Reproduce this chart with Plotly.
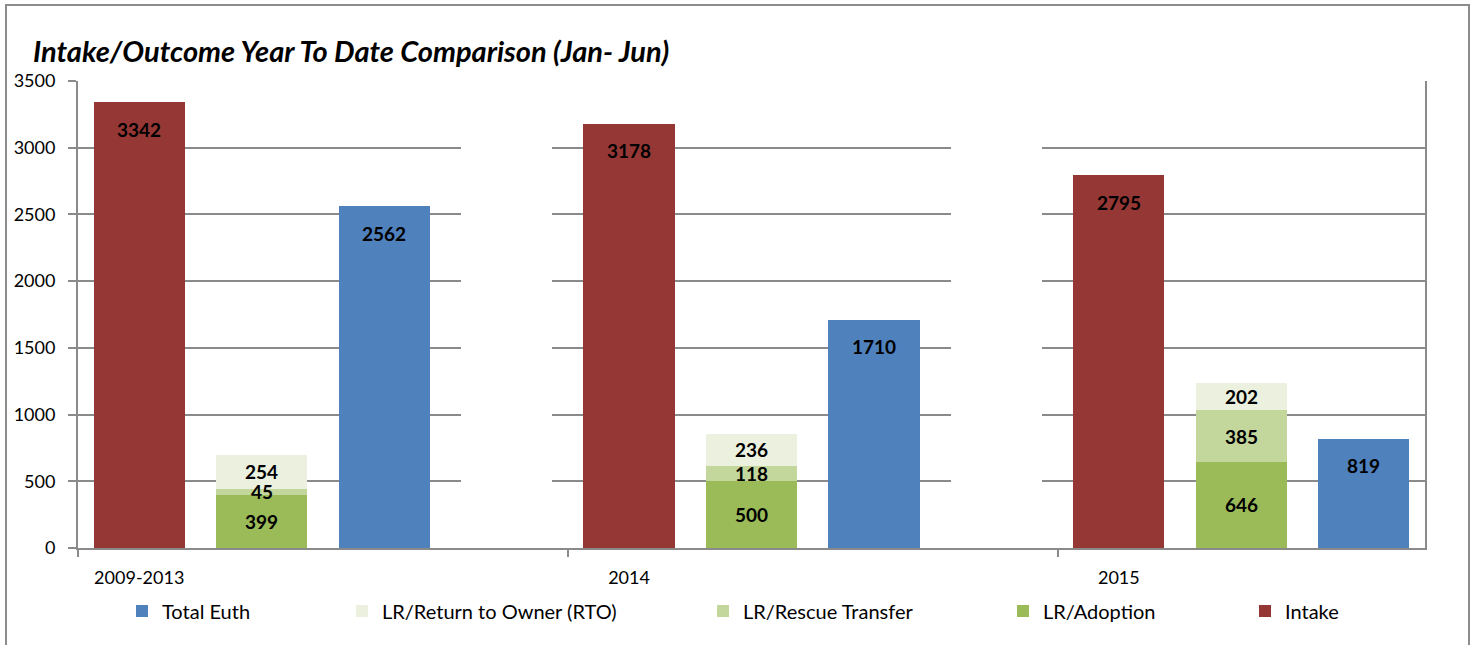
import plotly.graph_objects as go

# ---- data ----
categories = ["2009-2013", "2014", "2015"]
intake = [3342, 3178, 2795]
lr_adoption = [399, 500, 646]
lr_rescue = [45, 118, 385]
lr_rto = [254, 236, 202]
total_euth = [2562, 1710, 819]

y_max = 3500
y_step = 500

# ---- layout geometry ----
W, H = 1472, 645
L, R, T, B = 78, 47, 81, 97
plot_w = W - L - R
plot_h = H - T - B

slots_per_group = 4
x_intake = [g * slots_per_group + 0 for g in range(len(categories))]
x_lr = [g * slots_per_group + 1 for g in range(len(categories))]
x_euth = [g * slots_per_group + 2 for g in range(len(categories))]
x_gap = [g * slots_per_group + 3 for g in range(len(categories) - 1)]
n_slots = len(categories) * slots_per_group - 1

C_INTAKE = "#953735"
C_ADOPT = "#9BBB59"
C_RESCUE = "#C3D69B"
C_RTO = "#EBF1DE"
C_EUTH = "#4F81BD"
GRID = "#8A8A8A"
FONT = "Lato"

bw = 0.745
fig = go.Figure()

def px2paper_x(px):
    return (px - L) / plot_w

def px2paper_y(py):
    return (H - B - py) / plot_h

legend_y = px2paper_y(611)
# legend text start positions (px) in the reference
legend_text_px = {"Total Euth": 160, "LR/Return to Owner (RTO)": 380,
                  "LR/Rescue Transfer": 741, "LR/Adoption": 1041, "Intake": 1283}
legend_names = ["Total Euth", "LR/Return to Owner (RTO)", "LR/Rescue Transfer", "LR/Adoption", "Intake"]
legend_ids = {n: ("legend" if i == 0 else f"legend{i+1}") for i, n in enumerate(legend_names)}

def add_bar(x, y, name, color, base=None):
    fig.add_trace(go.Bar(
        x=x, y=y, base=base, name=name, width=bw,
        marker=dict(color=color, line=dict(width=0)),
        legend=legend_ids[name], hoverinfo="y+name",
    ))

add_bar(x_intake, intake, "Intake", C_INTAKE)
add_bar(x_lr, lr_adoption, "LR/Adoption", C_ADOPT)
base_rescue = lr_adoption
add_bar(x_lr, lr_rescue, "LR/Rescue Transfer", C_RESCUE, base=base_rescue)
base_rto = [a + b for a, b in zip(lr_adoption, lr_rescue)]
add_bar(x_lr, lr_rto, "LR/Return to Owner (RTO)", C_RTO, base=base_rto)
add_bar(x_euth, total_euth, "Total Euth", C_EUTH)

# white spacer bars between groups (hide gridlines there, as in the original)
fig.add_trace(go.Bar(
    x=x_gap, y=[y_max] * len(x_gap), width=bw, showlegend=False,
    marker=dict(color="white", line=dict(width=0)), hoverinfo="skip",
))

# ---- data labels ----
lab_font = dict(family=FONT, size=19, color="black", weight="bold")
for xs, vals in ((x_intake, intake), (x_euth, total_euth)):
    for x, v in zip(xs, vals):
        fig.add_annotation(x=x, y=v, text=f"<b>{v}</b>", showarrow=False,
                           yshift=-27, font=lab_font, xref="x", yref="y")
for vals, bases in ((lr_adoption, [0] * 3), (lr_rescue, base_rescue), (lr_rto, base_rto)):
    for x, v, b in zip(x_lr, vals, bases):
        fig.add_annotation(x=x, y=b + v / 2, text=f"<b>{v}</b>", showarrow=False,
                           font=lab_font, xref="x", yref="y")

# ---- legends ----
legend_layouts = {}
for n in legend_names:
    legend_layouts[legend_ids[n]] = dict(
        x=px2paper_x(legend_text_px[n] - 38), y=legend_y,
        xanchor="left", yanchor="middle", orientation="h",
        font=dict(family=FONT, size=20, color="black"),
        bgcolor="rgba(0,0,0,0)", borderwidth=0,
    )

fig.update_layout(
    width=W, height=H,
    margin=dict(l=L, r=R, t=T, b=B, pad=0),
    paper_bgcolor="white", plot_bgcolor="white",
    barmode="overlay", bargap=0,
    font=dict(family=FONT, size=18, color="black"),
    title=dict(
        text="<b><i>Intake/Outcome Year To Date Comparison (Jan- Jun)</i></b>",
        x=33 / W, xref="container", xanchor="left",
        y=1 - 52 / H, yref="container", yanchor="middle",
        font=dict(family=FONT, size=29, color="black"),
    ),
    xaxis=dict(
        range=[-0.5, n_slots - 0.5],
        tickvals=[g * slots_per_group for g in range(len(categories))],
        ticktext=categories,
        ticks="", showgrid=False, zeroline=False,
        showline=True, linecolor=GRID, linewidth=2,
        tickfont=dict(family=FONT, size=18, color="black"),
        ticklabelstandoff=12,
        minor=dict(
            tickvals=[g * slots_per_group - 0.5 for g in range(len(categories))],
            ticks="outside", ticklen=7, tickcolor=GRID, tickwidth=2, showgrid=False,
        ),
        fixedrange=True,
    ),
    yaxis=dict(
        range=[0, y_max], dtick=y_step, tick0=0,
        showgrid=True, gridcolor=GRID, gridwidth=2,
        zeroline=False, showline=True, linecolor=GRID, linewidth=2, mirror=True,
        ticks="outside", ticklen=8, tickcolor=GRID, tickwidth=2,
        tickfont=dict(family=FONT, size=18, color="black"),
        ticklabelstandoff=9,
        fixedrange=True,
    ),
    shapes=[dict(
        type="rect", xref="paper", yref="paper",
        x0=px2paper_x(6), x1=px2paper_x(1469),
        y0=px2paper_y(700), y1=px2paper_y(5),
        line=dict(color="#8C8C8C", width=2), fillcolor="rgba(0,0,0,0)", layer="below",
    )],
    **legend_layouts,
)

fig.write_html("out.html", post_script="document.body.style.margin='0';",
               config={"displayModeBar": False})
